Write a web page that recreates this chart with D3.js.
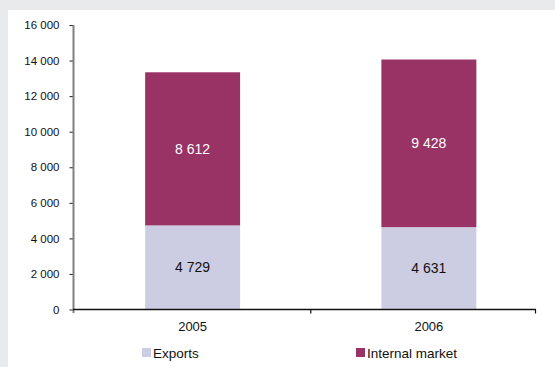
<!DOCTYPE html>
<html>
<head>
<meta charset="utf-8">
<script src="https://cdn.jsdelivr.net/npm/d3@7"></script>
<style>
  html, body { margin: 0; padding: 0; background: #e9eaec; }
  svg { display: block; }
  text { font-family: "Liberation Sans", Arial, sans-serif; }
</style>
</head>
<body>
<svg id="chart" width="555" height="367"></svg>
<script>
// Sales split by destination, per year
const years = ["2005", "2006"];
const exportsValues = [4729, 4631];
const internalValues = [8612, 9428];
const seriesNames = ["Exports", "Internal market"];
const yTicks = [0, 2000, 4000, 6000, 8000, 10000, 12000, 14000, 16000];

const colors = { "Exports": "#cccce3", "Internal market": "#993366" };
const labelColors = { "Exports": "#111", "Internal market": "#fff" };

const svg = d3.select("#chart");

// white panel
svg.append("rect").attr("x", 8).attr("y", 10).attr("width", 547).attr("height", 357).attr("fill", "#fff");

const x = d3.scaleBand().domain(years).range([74.5, 547]).paddingInner(0.598).paddingOuter(0.299);
const y = d3.scaleLinear().domain([0, 16000]).range([309.5, 25]);

// thousands separated by a space
const fmt = v => d3.format(",")(v).replace(/,/g, " ");

const rows = years.map((yr, i) => ({ year: yr, "Exports": exportsValues[i], "Internal market": internalValues[i] }));
const stacked = d3.stack().keys(seriesNames)(rows);

// bars
const layers = svg.append("g").selectAll("g").data(stacked).join("g")
  .attr("fill", d => colors[d.key]);
layers.selectAll("rect").data(d => d).join("rect")
  .attr("x", d => x(d.data.year))
  .attr("width", x.bandwidth())
  .attr("y", d => y(d[1]))
  .attr("height", d => y(d[0]) - y(d[1]));

// value labels
stacked.forEach(layer => {
  svg.append("g").selectAll("text").data(layer).join("text")
    .attr("x", d => x(d.data.year) + x.bandwidth() / 2)
    .attr("y", d => (y(d[0]) + y(d[1])) / 2 + 5)
    .attr("text-anchor", "middle")
    .attr("font-size", 14)
    .attr("fill", labelColors[layer.key])
    .text(d => fmt(d.data[layer.key]));
});

// y axis
const yAxis = d3.axisLeft(y).tickValues(yTicks).tickSize(4).tickPadding(10).tickFormat(fmt);
const gy = svg.append("g").attr("transform", "translate(73.5,0)").call(yAxis);
gy.select(".domain").remove();
gy.selectAll(".tick line").attr("stroke", "#222");
gy.selectAll(".tick text").attr("font-size", 11.5).attr("fill", "#111").attr("font-family", "Liberation Sans, Arial, sans-serif");
svg.append("line").attr("x1", 73.5).attr("x2", 73.5).attr("y1", 25).attr("y2", 313)
  .attr("stroke", "#808080").attr("stroke-width", 2);

// x axis
const xBase = y(0);
const xStart = 73, xEnd = 536;
svg.append("line").attr("x1", xStart).attr("x2", xEnd).attr("y1", xBase).attr("y2", xBase)
  .attr("stroke", "#111").attr("stroke-width", 1.5);
const step = x.step();
const boundaries = years.slice(1).map((d, i) => x.range()[0] + (i + 1) * step);
boundaries.concat([xEnd - 0.5]).forEach(bx => {
  svg.append("line").attr("x1", bx).attr("x2", bx).attr("y1", xBase).attr("y2", xBase + 4)
    .attr("stroke", "#111").attr("stroke-width", 1.2);
});
svg.append("g").selectAll("text").data(years).join("text")
  .attr("x", d => x(d) + x.bandwidth() / 2)
  .attr("y", 331)
  .attr("text-anchor", "middle")
  .attr("font-size", 13)
  .attr("fill", "#111")
  .text(d => d);

// legend
const legendX = [142, 356];
const legend = svg.append("g").selectAll("g").data(seriesNames).join("g")
  .attr("transform", (d, i) => `translate(${legendX[i]},348)`);
legend.append("rect").attr("width", 9).attr("height", 9).attr("fill", d => colors[d]);
legend.append("text").attr("x", 11).attr("y", 9.5).attr("font-size", 13.5).attr("fill", "#111").text(d => d);
</script>
</body>
</html>
